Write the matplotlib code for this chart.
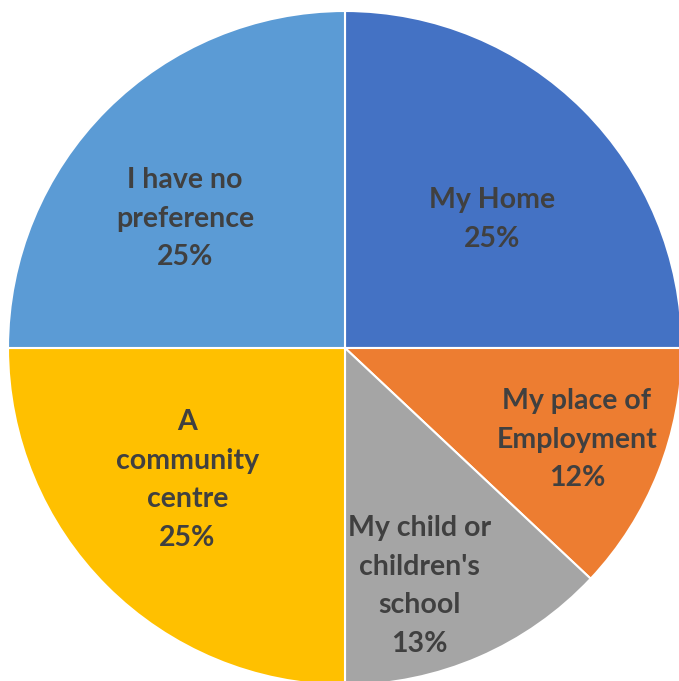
import numpy as np
import matplotlib.pyplot as plt

labels = ["My Home", "My place of\nEmployment", "My child or\nchildren's\nschool",
          "A\ncommunity\ncentre", "I have no\npreference"]
shares = [25, 12, 13, 25, 25]
colors = ["#4472C4", "#ED7D31", "#A5A5A5", "#FFC000", "#5B9BD5"]

# label placement tweaks (radius fraction, angle shift in degrees)
label_r = [0.58, 0.74, 0.74, 0.61, 0.61]
label_shift = [-4, 0, -6, -5, 6]

fig = plt.figure(figsize=(6.79, 6.81), dpi=100)
ax = fig.add_axes([0, 0, 1, 1])

wedges, _ = ax.pie(
    shares,
    colors=colors,
    startangle=90,
    counterclock=False,
    radius=1,
    wedgeprops=dict(edgecolor="white", linewidth=1.5),
)

for w, lab, val, r, sh in zip(wedges, labels, shares, label_r, label_shift):
    mid = np.deg2rad((w.theta1 + w.theta2) / 2 + sh)
    ax.text(r * np.cos(mid), r * np.sin(mid), f"{lab}\n{val}%",
            ha="center", va="center", fontsize=20.5, fontweight="bold",
            family="Lato", color="#404040", linespacing=1.6)

ax.set_xlim(-345 / 337, (679 - 345) / 337)
ax.set_ylim(-(681 - 348) / 337, 348 / 337)
ax.set_aspect("auto")
ax.axis("off")

fig.savefig("out.png", dpi=100)
